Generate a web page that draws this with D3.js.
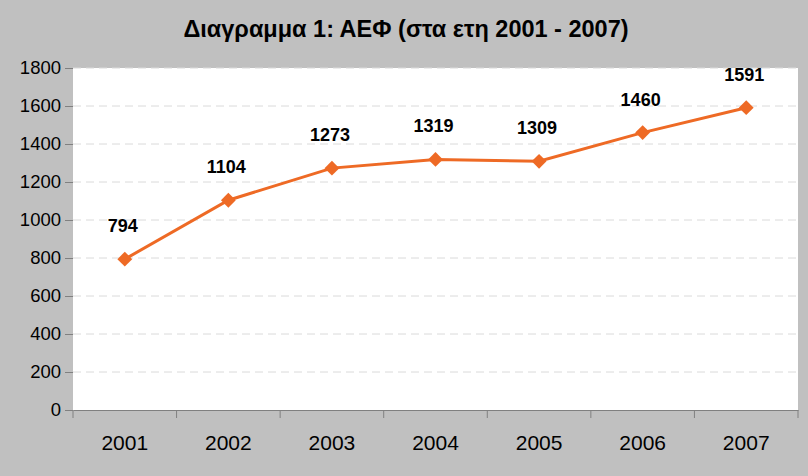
<!DOCTYPE html>
<html>
<head>
<meta charset="utf-8">
<script src="https://cdn.jsdelivr.net/npm/d3@7"></script>
<style>
  body { margin: 0; background: #c0c0c0; }
  svg { display: block; font-family: "Liberation Sans", Arial, sans-serif; }
  .y-axis .domain { display: none; }
  .x-axis .domain { stroke: #808080; }
  .tick line { stroke: #808080; }
</style>
</head>
<body>
<div class="d3-line-chart"></div>
<script>
var title = 'Διαγραμμα 1: ΑΕΦ (στα ετη 2001 - 2007)';
var years = ['2001', '2002', '2003', '2004', '2005', '2006', '2007'];
var values = [794, 1104, 1273, 1319, 1309, 1460, 1591];
var yTicks = [0, 200, 400, 600, 800, 1000, 1200, 1400, 1600, 1800];

var width = 808, height = 476;
var margins = { top: 68, right: 10, bottom: 66, left: 73 };
var w = width - margins.left - margins.right;
var h = height - margins.top - margins.bottom;

var svg = d3.select('.d3-line-chart').append('svg')
  .attr('width', width)
  .attr('height', height);

svg.append('rect').attr('width', width).attr('height', height).attr('fill', '#c0c0c0');

svg.append('text')
  .attr('x', 406).attr('y', 37)
  .attr('text-anchor', 'middle')
  .attr('font-size', 23.5).attr('font-weight', 'bold')
  .text(title);

var graph = svg.append('g')
  .attr('transform', 'translate(' + margins.left + ',' + margins.top + ')');

var x = d3.scaleBand().domain(years).range([0, w]);
var y = d3.scaleLinear().domain([0, 1800]).range([h, 0]);

graph.append('rect').attr('width', w).attr('height', h).attr('fill', '#fff');

// dashed gridlines
graph.selectAll('.grid').data(yTicks.slice(1))
  .enter().append('line')
  .attr('class', 'grid')
  .attr('x1', 0).attr('x2', w)
  .attr('y1', function(d) { return y(d); })
  .attr('y2', function(d) { return y(d); })
  .attr('stroke', '#dadada')
  .attr('stroke-dasharray', '8,5');

graph.append('g')
  .attr('class', 'y-axis')
  .call(d3.axisLeft(y).tickValues(yTicks).tickFormat(d3.format('d')).tickSize(8).tickPadding(4))
  .selectAll('text').attr('font-size', 18.5).attr('fill', '#000');

var xAxis = graph.append('g')
  .attr('class', 'x-axis')
  .attr('transform', 'translate(0,' + h + ')')
  .call(d3.axisBottom(x).tickSize(0).tickPadding(25));
xAxis.selectAll('text').attr('font-size', 21).attr('fill', '#000');
xAxis.selectAll('.tick line').remove();

// category boundary ticks
var bounds = years.map(function(d) { return x(d); }).concat([w]);
xAxis.selectAll('.bt').data(bounds)
  .enter().append('line')
  .attr('class', 'bt')
  .attr('x1', function(d) { return d; }).attr('x2', function(d) { return d; })
  .attr('y1', 0).attr('y2', 8)
  .attr('stroke', '#808080');

var cx = function(d, i) { return x(years[i]) + x.bandwidth() / 2; };

var line = d3.line()
  .x(function(d, i) { return cx(d, i); })
  .y(function(d) { return y(d); });

graph.append('path')
  .attr('d', line(values))
  .attr('fill', 'none')
  .attr('stroke', '#ee6a25')
  .attr('stroke-width', 3);

graph.selectAll('.pt').data(values)
  .enter().append('path')
  .attr('class', 'pt')
  .attr('d', d3.symbol().type(d3.symbolDiamond2).size(140))
  .attr('transform', function(d, i) { return 'translate(' + cx(d, i) + ',' + y(d) + ')'; })
  .attr('fill', '#ee6a25');

graph.selectAll('.lbl').data(values)
  .enter().append('text')
  .attr('class', 'lbl')
  .attr('x', function(d, i) { return cx(d, i) - 2; })
  .attr('y', function(d) { return y(d) - 27; })
  .attr('text-anchor', 'middle')
  .attr('font-size', 18).attr('font-weight', 'bold')
  .text(function(d) { return d; });
</script>
</body>
</html>
